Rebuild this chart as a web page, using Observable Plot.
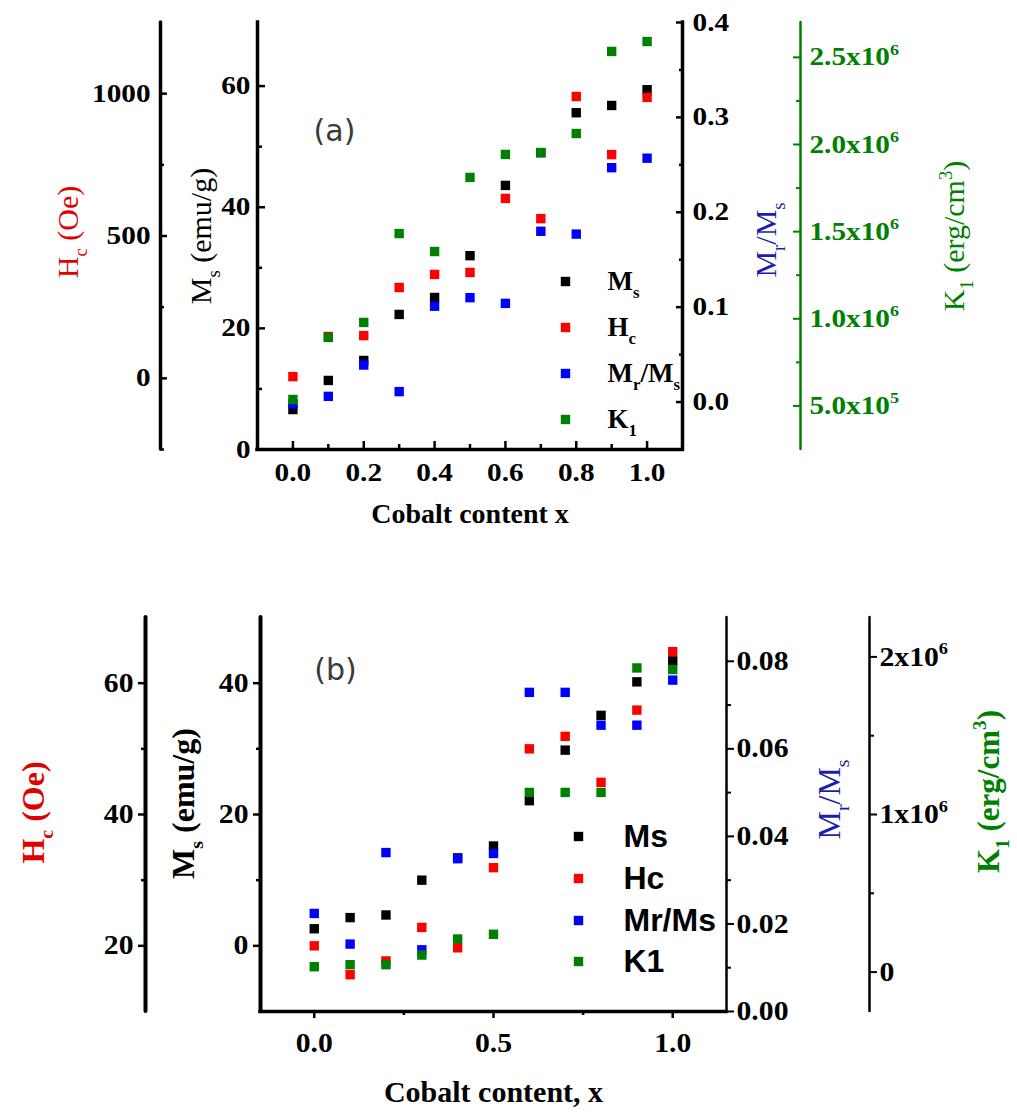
<!DOCTYPE html>
<html><head><meta charset="utf-8">
<script src="https://cdn.jsdelivr.net/npm/d3@7"></script>
<script src="https://cdn.jsdelivr.net/npm/@observablehq/plot@0.6"></script>
<style>body{margin:0;background:#fff} svg{display:block}</style>
</head><body><div id="chart"></div>
<script>
// ---------------- data ----------------
const cobalt = [0, 0.1, 0.2, 0.3, 0.4, 0.5, 0.6, 0.7, 0.8, 0.9, 1.0];
// panel (a)
const msA = [6.6, 11.4, 14.7, 22.3, 25.1, 32.0, 43.6, 49.0, 55.6, 56.8, 59.4];
const hcA = [6, 147, 150, 319, 365, 372, 632, 561, 990, 786, 987];
const mrA = [-0.002, 0.006, 0.039, 0.011, 0.101, 0.110, 0.104, 0.180, 0.177, 0.247, 0.257];
const k1A = [0.537e6, 0.893e6, 0.979e6, 1.489e6, 1.386e6, 1.811e6, 1.943e6, 1.954e6, 2.063e6, 2.534e6, 2.591e6];
// panel (b)
const msB = [2.6, 4.3, 4.7, 10.0, 13.4, 15.2, 22.1, 29.8, 35.1, 40.2, 43.4];
const hcB = [20.0, 15.6, 17.7, 22.8, 19.7, 31.9, 50.0, 51.9, 44.9, 55.9, 64.8];
const mrB = [0.0224, 0.0154, 0.0363, 0.0141, 0.0349, 0.0361, 0.0729, 0.0729, 0.0654, 0.0654, 0.0757];
const k1B = [0.034e6, 0.047e6, 0.047e6, 0.108e6, 0.21e6, 0.24e6, 1.14e6, 1.14e6, 1.14e6, 1.93e6, 1.92e6];

// ticks
const xMajA = [0, 0.2, 0.4, 0.6, 0.8, 1.0], xMinA = [0.1, 0.3, 0.5, 0.7, 0.9];
const msMajA = [0, 20, 40, 60], msMinA = [10, 30, 50];
const hcMajA = [0, 500, 1000], hcMinA = [-250, 250, 750];
const mrMajA = [0, 0.1, 0.2, 0.3, 0.4], mrMinA = [0.05, 0.15, 0.25, 0.35];
const k1MajA = [0.5e6, 1.0e6, 1.5e6, 2.0e6, 2.5e6], k1MinA = [0.75e6, 1.25e6, 1.75e6, 2.25e6];

const xMajB = [0, 0.5, 1.0], xMinB = [0.25, 0.75];
const msMajB = [0, 20, 40], msMinB = [10, 30];
const hcMajB = [20, 40, 60], hcMinB = [30, 50];
const mrMajB = [0, 0.02, 0.04, 0.06, 0.08], mrMinB = [0.01, 0.03, 0.05, 0.07];
const k1MajB = [0, 1e6, 2e6], k1MinB = [0.5e6, 1.5e6];

const legendA = ["M_{s}", "H_{c}", "M_{r}/M_{s}", "K_{1}"];
const legendB = ["Ms", "Hc", "Mr/Ms", "K1"];

// ---------------- style ----------------
const BLACK = "#000000", RED = "#ff0000", BLUE = "#0000ff", GREEN = "#008000";
const seriesColors = [BLACK, RED, BLUE, GREEN];
const serif = "'Liberation Serif','Times New Roman',serif";
const sans = "'Liberation Sans',Arial,sans-serif";
const W = 1017;

const lin = (src, dst) => d3.scaleLinear().domain(src).range(dst);

function yTicks(values, o) {
  return Plot.axisY(values, {anchor: o.anchor, dx: o.dx || 0, tickSize: o.size, stroke: o.color || BLACK,
    strokeWidth: o.sw || 2.5, fill: "none", tickFormat: () => "", label: null});
}
function yLabels(values, fmt, o) {
  return Plot.axisY(values, {anchor: o.anchor, dx: o.dx || 0, tickSize: 0, tickPadding: o.pad, tickFormat: fmt,
    fill: o.color || BLACK, fontFamily: serif, fontSize: o.fs, fontWeight: "bold", label: null});
}
function xTicks(values, o) {
  return Plot.axisX(values, {anchor: "bottom", tickSize: o.size, stroke: BLACK, strokeWidth: o.sw || 2.5,
    fill: "none", tickFormat: () => "", label: null});
}
function xLabels(values, fmt, o) {
  return Plot.axisX(values, {anchor: "bottom", tickSize: 0, tickPadding: o.pad, tickFormat: fmt,
    fill: BLACK, fontFamily: serif, fontSize: o.fs, fontWeight: "bold", label: null});
}
function title(str, o) {
  return Plot.text([str], {text: d => d, frameAnchor: o.anchor, dx: o.dx || 0, dy: o.dy || 0, rotate: o.rotate || 0,
    fill: o.color || BLACK, fontFamily: o.font || serif, fontSize: o.fs, fontWeight: o.weight || "normal",
    textAnchor: "middle", lineAnchor: "middle"});
}
function legend(labels, o) {
  const out = [];
  labels.forEach((lab, i) => {
    out.push(Plot.dot([lab], {frameAnchor: "top-left", dx: o.mx, dy: o.rows[i], symbol: "square", r: 5.3, fill: seriesColors[i], stroke: "none"}));
    out.push(Plot.text([lab], {text: d => d, frameAnchor: "top-left", dx: o.tx, dy: o.rows[i], textAnchor: "start",
      lineAnchor: "middle", fill: BLACK, fontFamily: o.font, fontSize: o.fs, fontWeight: "bold"}));
  });
  return out;
}
function series(rows, map) {
  const keys = ["ms", "hc", "mr", "k1"];
  return keys.map((k, i) => Plot.dot(rows, {x: "x", y: d => map[k](d[k]), symbol: "square", r: 5.3, fill: seriesColors[i], stroke: "none"}));
}
// turn _{..} / ^{..} into sub/superscript tspans
function richify(svg) {
  svg.querySelectorAll("text").forEach(t => {
    const s = t.textContent;
    if (!/[_^]\{/.test(s)) return;
    const parts = [], re = /([_^])\{([^}]*)\}/g;
    let last = 0, m;
    while ((m = re.exec(s))) {
      if (m.index > last) parts.push({t: s.slice(last, m.index), k: 0});
      parts.push({t: m[2], k: m[1] === "_" ? 1 : -1});
      last = re.lastIndex;
    }
    if (last < s.length) parts.push({t: s.slice(last), k: 0});
    while (t.firstChild) t.removeChild(t.firstChild);
    let shift = 0;
    for (const p of parts) {
      const ts = document.createElementNS("http://www.w3.org/2000/svg", "tspan");
      const target = p.k === 1 ? 0.3 : p.k === -1 ? -0.42 : 0;
      const fs = p.k ? 0.62 : 1;
      const delta = target - shift;
      if (delta) ts.setAttribute("dy", (delta / fs).toFixed(3) + "em");
      if (p.k) ts.setAttribute("font-size", "62%");
      ts.textContent = p.t;
      t.appendChild(ts);
      shift = target;
    }
  });
  return svg;
}
// widen tick-label glyphs like the reference's wide digits
function stretch(svg, f) {
  svg.querySelectorAll('g[aria-label$="tick label"] text').forEach(t => {
    const L = t.getComputedTextLength();
    if (L > 0) {
      t.setAttribute("textLength", (L * f).toFixed(1));
      t.setAttribute("lengthAdjust", "spacingAndGlyphs");
    }
  });
}

// ---------------- panel (a) ----------------
const A = {left: 257, right: 682, top: 22, bottom: 449, h: 540};
const xDomA = [-0.1, 1.1], msDomA = [0, 70.5];
const mapA = {
  ms: v => v,
  hc: lin([-250, 1250], msDomA),
  mr: lin([-0.05, 0.4], msDomA),
  k1: lin([0.25e6, 2.7e6], msDomA)
};
const rowsA = cobalt.map((x, i) => ({x, ms: msA[i], hc: hcA[i], mr: mrA[i], k1: k1A[i]}));
const fmtK1A = d => {
  const v = Math.round(mapA.k1.invert(d) / 1e4) * 1e4;
  return v < 1e6 ? (v / 1e5).toFixed(1) + "x10^{5}" : (v / 1e6).toFixed(1) + "x10^{6}";
};
const dxHcA = 160 - A.left, dxK1A = 800 - A.right;

const plotA = Plot.plot({
  width: W, height: A.h,
  marginLeft: A.left, marginRight: W - A.right, marginTop: A.top, marginBottom: A.h - A.bottom,
  x: {domain: xDomA, axis: null}, y: {domain: msDomA, axis: null},
  style: {background: "#fff", overflow: "visible"},
  marks: [
    Plot.ruleY([msDomA[0]], {stroke: BLACK, strokeWidth: 3.5, strokeLinecap: "square"}),
    Plot.ruleX([xDomA[0]], {stroke: BLACK, strokeWidth: 3.5, strokeLinecap: "square"}),
    Plot.ruleX([xDomA[1]], {stroke: BLACK, strokeWidth: 3.5, strokeLinecap: "square"}),
    Plot.ruleX([xDomA[0]], {dx: dxHcA, stroke: BLACK, strokeWidth: 3.5, strokeLinecap: "round"}),
    Plot.ruleX([xDomA[1]], {dx: dxK1A, stroke: GREEN, strokeWidth: 2.5, strokeLinecap: "round"}),
    // x axis
    xTicks(xMajA, {size: -8}), xTicks(xMinA, {size: -5}),
    xLabels(xMajA, d => d.toFixed(1), {pad: 14, fs: 25}),
    // Ms axis
    yTicks(msMajA, {anchor: "left", size: -8}), yTicks(msMinA, {anchor: "left", size: -5}),
    yLabels(msMajA, d => String(Math.round(d)), {anchor: "left", pad: 7, fs: 25}),
    // Hc axis
    yTicks(hcMajA.map(mapA.hc), {anchor: "left", dx: dxHcA, size: -7}),
    yTicks(hcMinA.map(mapA.hc), {anchor: "left", dx: dxHcA, size: -4}),
    yLabels(hcMajA.map(mapA.hc), d => String(Math.round(mapA.hc.invert(d))), {anchor: "left", dx: dxHcA, pad: 10, fs: 25}),
    // Mr/Ms axis
    yTicks(mrMajA.map(mapA.mr), {anchor: "right", size: -7}),
    yTicks(mrMinA.map(mapA.mr), {anchor: "right", size: -4}),
    yLabels(mrMajA.map(mapA.mr), d => mapA.mr.invert(d).toFixed(1), {anchor: "right", pad: 10, fs: 25}),
    // K1 axis
    yTicks(k1MajA.map(mapA.k1), {anchor: "right", dx: dxK1A, size: -8, color: GREEN, sw: 2}),
    yTicks(k1MinA.map(mapA.k1), {anchor: "right", dx: dxK1A, size: -5, color: GREEN, sw: 2}),
    yLabels(k1MajA.map(mapA.k1), fmtK1A, {anchor: "right", dx: dxK1A, pad: 9, fs: 25, color: GREEN}),
    // axis titles
    title("H_{c} (Oe)", {anchor: "left", dx: 68 - A.left, dy: -4, rotate: -90, color: "#e00000", fs: 30}),
    title("M_{s} (emu/g)", {anchor: "left", dx: 201 - A.left, dy: 0, rotate: -90, color: BLACK, fs: 30}),
    title("M_{r}/M_{s}", {anchor: "right", dx: 766 - A.right, dy: 4, rotate: -90, color: "#1c1cb0", fs: 30}),
    title("K_{1} (erg/cm^{3})", {anchor: "right", dx: 954 - A.right, dy: 0, rotate: -90, color: GREEN, fs: 30}),
    title("Cobalt content x", {anchor: "bottom", dy: 65, color: BLACK, fs: 28, weight: "bold"}),
    title("(a)", {anchor: "top-left", dx: 334 - A.left, dy: 131 - A.top, color: "#3a3a3a", fs: 30, font: "'DejaVu Sans',sans-serif"}),
    // data
    ...series(rowsA, mapA),
    // legend
    ...legend(legendA, {mx: 565 - A.left, tx: 607 - A.left, rows: [281, 327, 373, 419].map(y => y - A.top), font: serif, fs: 27})
  ]
});

// ---------------- panel (b) ----------------
const B = {left: 260, right: 726, top: 77, bottom: 471, h: 573};
const xDomB = [-0.15, 1.15], msDomB = [-10, 50];
const mapB = {
  ms: v => v,
  hc: lin([10, 70], msDomB),
  mr: lin([0, 0.09], msDomB),
  k1: lin([-0.25e6, 2.25e6], msDomB)
};
const rowsB = cobalt.map((x, i) => ({x, ms: msB[i], hc: hcB[i], mr: mrB[i], k1: k1B[i]}));
const fmtK1B = d => {
  const v = Math.round(mapB.k1.invert(d) / 1e5) * 1e5;
  return v === 0 ? "0" : Math.round(v / 1e6) + "x10^{6}";
};
const dxHcB = 145 - B.left, dxK1B = 869 - B.right;
const off = 540;

const plotB = Plot.plot({
  width: W, height: B.h,
  marginLeft: B.left, marginRight: W - B.right, marginTop: B.top, marginBottom: B.h - B.bottom,
  x: {domain: xDomB, axis: null}, y: {domain: msDomB, axis: null},
  style: {background: "#fff", overflow: "visible"},
  marks: [
    Plot.ruleY([msDomB[0]], {stroke: BLACK, strokeWidth: 3.5, strokeLinecap: "square"}),
    Plot.ruleX([xDomB[0]], {stroke: BLACK, strokeWidth: 4, strokeLinecap: "round"}),
    Plot.ruleX([xDomB[1]], {stroke: BLACK, strokeWidth: 2.5, strokeLinecap: "round"}),
    Plot.ruleX([xDomB[0]], {dx: dxHcB, stroke: BLACK, strokeWidth: 4, strokeLinecap: "round"}),
    Plot.ruleX([xDomB[1]], {dx: dxK1B, stroke: BLACK, strokeWidth: 2.5, strokeLinecap: "round"}),
    // x axis
    xTicks(xMajB, {size: 7}), xTicks(xMinB, {size: 4}),
    xLabels(xMajB, d => d.toFixed(1), {pad: 21, fs: 27}),
    // Ms axis
    yTicks(msMajB, {anchor: "left", size: 7}), yTicks(msMinB, {anchor: "left", size: 4}),
    yLabels(msMajB, d => String(Math.round(d)), {anchor: "left", pad: 12, fs: 27}),
    // Hc axis
    yTicks(hcMajB.map(mapB.hc), {anchor: "left", dx: dxHcB, size: 7}),
    yTicks(hcMinB.map(mapB.hc), {anchor: "left", dx: dxHcB, size: 4}),
    yLabels(hcMajB.map(mapB.hc), d => String(Math.round(mapB.hc.invert(d))), {anchor: "left", dx: dxHcB, pad: 12, fs: 27}),
    // Mr/Ms axis
    yTicks(mrMajB.map(mapB.mr), {anchor: "right", size: 7, sw: 2}),
    yTicks(mrMinB.map(mapB.mr), {anchor: "right", size: 4, sw: 2}),
    yLabels(mrMajB.map(mapB.mr), d => mapB.mr.invert(d).toFixed(2), {anchor: "right", pad: 10, fs: 27}),
    // K1 axis
    yTicks(k1MajB.map(mapB.k1), {anchor: "right", dx: dxK1B, size: 7, sw: 2}),
    yTicks(k1MinB.map(mapB.k1), {anchor: "right", dx: dxK1B, size: 4, sw: 2}),
    yLabels(k1MajB.map(mapB.k1), fmtK1B, {anchor: "right", dx: dxK1B, pad: 10, fs: 27}),
    // axis titles
    title("H_{c} (Oe)", {anchor: "left", dx: 33 - B.left, dy: 812 - off - (B.top + B.bottom) / 2, rotate: -90, color: "#e00000", fs: 32, weight: "bold"}),
    title("M_{s} (emu/g)", {anchor: "left", dx: 183 - B.left, dy: 803 - off - (B.top + B.bottom) / 2, rotate: -90, color: BLACK, fs: 32, weight: "bold"}),
    title("M_{r}/M_{s}", {anchor: "right", dx: 829 - B.right, dy: 799 - off - (B.top + B.bottom) / 2, rotate: -90, color: "#1c1cb0", fs: 32}),
    title("K_{1} (erg/cm^{3})", {anchor: "right", dx: 989 - B.right, dy: 791 - off - (B.top + B.bottom) / 2, rotate: -90, color: GREEN, fs: 31, weight: "bold"}),
    title("Cobalt content, x", {anchor: "bottom", dy: 81, color: BLACK, fs: 30, weight: "bold"}),
    title("(b)", {anchor: "top-left", dx: 335 - B.left, dy: 670 - off - B.top, color: "#3a3a3a", fs: 30, font: "'DejaVu Sans',sans-serif"}),
    // data
    ...series(rowsB, mapB),
    // legend
    ...legend(legendB, {mx: 578 - B.left, tx: 623 - B.left, rows: [836, 878, 920, 961].map(y => y - off - B.top), font: sans, fs: 32})
  ]
});

const root = document.getElementById("chart");
root.appendChild(richify(plotA));
root.appendChild(richify(plotB));
stretch(plotA, 1.17);
stretch(plotB, 1.1);
</script>
</body></html>
